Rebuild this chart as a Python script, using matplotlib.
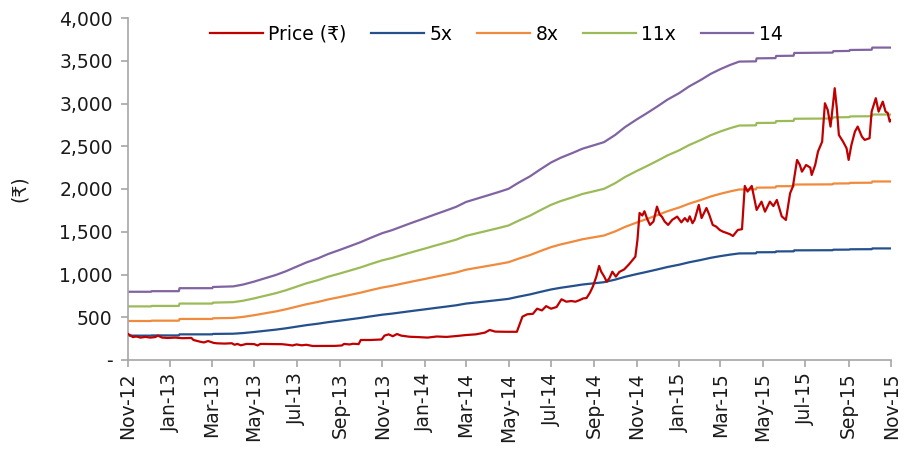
import matplotlib
matplotlib.use('Agg')
import matplotlib.pyplot as plt
import matplotlib.dates as mdates
from matplotlib.ticker import FuncFormatter
import pandas as pd

plt.rcParams['font.family'] = ['DejaVu Sans', 'Noto Sans']

# share price (Rs)
price_dates = [
    '2012-11-01', '2012-11-04', '2012-11-08', '2012-11-13', '2012-11-19', '2012-11-26',
    '2012-12-03', '2012-12-10', '2012-12-14', '2012-12-20', '2012-12-28', '2013-01-08',
    '2013-01-18', '2013-01-31', '2013-02-03', '2013-02-12', '2013-02-18', '2013-02-24',
    '2013-03-04', '2013-03-09', '2013-03-20', '2013-03-30', '2013-04-03', '2013-04-07',
    '2013-04-12', '2013-04-20', '2013-05-01', '2013-05-06', '2013-05-10', '2013-05-25',
    '2013-06-10', '2013-06-18', '2013-06-25', '2013-07-01', '2013-07-08', '2013-07-15',
    '2013-07-24', '2013-08-10', '2013-08-25', '2013-09-04', '2013-09-07', '2013-09-15',
    '2013-09-20', '2013-09-28', '2013-10-01', '2013-10-15', '2013-10-31', '2013-11-04',
    '2013-11-10', '2013-11-16', '2013-11-22', '2013-11-28', '2013-12-10', '2013-12-22',
    '2014-01-05', '2014-01-18', '2014-02-01', '2014-02-15', '2014-03-01', '2014-03-15',
    '2014-03-28', '2014-04-04', '2014-04-12', '2014-04-28', '2014-05-13', '2014-05-17',
    '2014-05-21', '2014-05-28', '2014-06-05', '2014-06-11', '2014-06-18', '2014-06-24',
    '2014-07-01', '2014-07-09', '2014-07-16', '2014-07-23', '2014-07-30', '2014-08-05',
    '2014-08-11', '2014-08-16', '2014-08-21', '2014-08-26', '2014-08-30', '2014-09-04',
    '2014-09-08', '2014-09-11', '2014-09-15', '2014-09-19', '2014-09-23', '2014-09-27',
    '2014-10-02', '2014-10-07', '2014-10-14', '2014-10-21', '2014-10-30', '2014-11-02',
    '2014-11-05', '2014-11-09', '2014-11-12', '2014-11-16', '2014-11-20', '2014-11-25',
    '2014-11-30', '2014-12-04', '2014-12-07', '2014-12-11', '2014-12-16', '2014-12-22',
    '2014-12-29', '2015-01-04', '2015-01-09', '2015-01-13', '2015-01-16', '2015-01-20',
    '2015-01-23', '2015-01-29', '2015-02-02', '2015-02-09', '2015-02-13', '2015-02-18',
    '2015-02-23', '2015-02-28', '2015-03-05', '2015-03-10', '2015-03-15', '2015-03-19',
    '2015-03-26', '2015-04-01', '2015-04-05', '2015-04-09', '2015-04-15', '2015-04-22',
    '2015-04-29', '2015-05-04', '2015-05-11', '2015-05-16', '2015-05-21', '2015-05-28',
    '2015-06-03', '2015-06-09', '2015-06-13', '2015-06-19', '2015-06-23', '2015-06-26',
    '2015-07-02', '2015-07-08', '2015-07-10', '2015-07-15', '2015-07-19', '2015-07-25',
    '2015-07-26', '2015-07-29', '2015-08-02', '2015-08-06', '2015-08-09', '2015-08-12',
    '2015-08-15', '2015-08-18', '2015-08-24', '2015-08-29', '2015-09-01', '2015-09-05',
    '2015-09-10', '2015-09-14', '2015-09-20', '2015-09-24', '2015-10-01', '2015-10-04',
    '2015-10-10', '2015-10-14', '2015-10-20', '2015-10-24', '2015-10-27', '2015-10-30',
    '2015-11-01',
]
price = [
    305, 290, 268, 275, 262, 270,
    262, 268, 285, 262, 258, 262,
    255, 258, 234, 215, 205, 222,
    200, 195, 192, 196, 178, 188,
    172, 188, 186, 170, 188, 186,
    185, 178, 170, 182, 172, 178,
    164, 164, 165, 170, 188, 182,
    190, 186, 234, 234, 240, 285,
    300, 278, 304, 285, 272, 268,
    262, 275, 270, 280, 292, 300,
    320, 351, 332, 330, 330, 420,
    507, 535, 540, 600, 580, 630,
    600, 620, 710, 682, 690, 682,
    700, 720, 725, 790, 858, 975,
    1100, 1033, 980, 916, 960, 1033,
    975, 1030, 1060, 1120, 1209, 1404,
    1720, 1690, 1740, 1650, 1580, 1620,
    1794, 1700, 1677, 1620, 1580, 1640,
    1677, 1610, 1660, 1620, 1680, 1600,
    1640, 1814, 1660, 1778, 1700, 1580,
    1560, 1521, 1500, 1486, 1470, 1450,
    1521, 1530, 2036, 1970, 2036, 1755,
    1852, 1735, 1852, 1800, 1872, 1680,
    1638, 1950, 2028, 2340, 2281, 2203,
    2281, 2250, 2164, 2281, 2437, 2554,
    2671, 3003, 2925, 2730, 2948, 3179,
    2948, 2632, 2554, 2477, 2340, 2516,
    2671, 2730, 2613, 2574, 2594, 2905,
    3062, 2905, 3022, 2905, 2890, 2788,
    2808,
]

# trailing EPS behind the PE bands (Rs)
eps_dates = [
    '2012-11-01', '2012-12-04', '2012-12-05', '2013-01-13', '2013-01-14', '2013-03-02',
    '2013-03-03', '2013-04-01', '2013-04-15',
    '2013-05-01', '2013-05-15', '2013-06-01', '2013-06-15', '2013-07-01', '2013-07-15',
    '2013-08-01', '2013-08-15', '2013-09-01', '2013-09-15', '2013-10-01', '2013-10-15',
    '2013-11-01', '2013-11-15', '2013-12-01', '2013-12-15', '2014-01-01', '2014-01-15',
    '2014-02-01', '2014-02-15', '2014-03-01', '2014-03-15', '2014-04-01', '2014-04-15',
    '2014-05-01', '2014-05-15', '2014-06-01', '2014-06-15', '2014-07-01', '2014-07-15',
    '2014-08-01', '2014-08-15', '2014-09-01', '2014-09-15', '2014-10-01', '2014-10-15',
    '2014-11-01', '2014-11-15', '2014-12-01', '2014-12-15', '2015-01-01', '2015-01-15',
    '2015-02-01', '2015-02-15', '2015-03-01', '2015-03-15', '2015-03-28', '2015-04-21',
    '2015-04-22', '2015-05-19', '2015-05-20', '2015-06-14', '2015-06-15', '2015-08-09',
    '2015-08-10', '2015-09-02', '2015-09-03', '2015-10-04', '2015-10-05', '2015-11-01',
]
eps = [
    57.0, 57.0, 57.5, 57.5, 60.0, 60.0,
    61.0, 61.5, 63.0,
    65.5, 68.0, 71.0, 74.0, 78.0, 81.5,
    85.0, 88.5, 92.0, 95.0, 98.5, 102.0,
    106.0, 108.5, 112.0, 115.0, 118.5, 121.5,
    125.0, 128.0, 132.0, 134.5, 137.5, 140.0,
    143.0, 148.0, 153.5, 159.0, 165.0, 169.0,
    173.0, 176.5, 179.5, 182.0, 188.0, 194.5,
    201.0, 206.0, 212.0, 217.5, 223.0, 228.5,
    234.0, 239.0, 243.0, 246.5, 249.3, 249.5,
    252.0, 252.2, 254.0, 254.2, 256.5, 256.8,
    258.0, 258.2, 259.0, 259.2, 261.0, 261.0,
]

multiples = [5, 8, 11, 14]
band_labels = ['5x', '8x', '11x', '14']
band_colors = ['#24508C', '#F08A3C', '#9BBB59', '#8064A2']

pdates = pd.to_datetime(price_dates)
edates = pd.to_datetime(eps_dates)

fig = plt.figure(figsize=(9.14, 4.5), dpi=100)
ax = fig.add_axes([0.140, 0.20, 0.835, 0.76])

ax.plot(pdates, price, color='#C00000', lw=1.6, label='Price (\u20b9)', zorder=5)
for m, lab, c in zip(multiples, band_labels, band_colors):
    ax.plot(edates, [e * m for e in eps], color=c, lw=1.6, label=lab)

ax.set_xlim(pd.Timestamp('2012-11-01'), pd.Timestamp('2015-11-01'))
ax.set_ylim(0, 4000)
ax.set_yticks(range(0, 4001, 500))
ax.yaxis.set_major_formatter(FuncFormatter(lambda v, p: '-' if v == 0 else '{:,.0f}'.format(v)))
ax.xaxis.set_major_locator(mdates.MonthLocator(bymonth=[1, 3, 5, 7, 9, 11]))
ax.xaxis.set_major_formatter(mdates.DateFormatter('%b-%y'))
plt.setp(ax.get_xticklabels(), rotation=90)

for s in ['top', 'right']:
    ax.spines[s].set_visible(False)
for s in ['left', 'bottom']:
    ax.spines[s].set_color('#A6A6A6')
    ax.spines[s].set_linewidth(1.2)
ax.tick_params(axis='both', colors='#A6A6A6', length=5, width=1.2, labelsize=13.5,
               labelcolor='#1a1a1a', pad=4)
ax.tick_params(axis='y', pad=6)

ax.set_ylabel('(\u20b9)', fontsize=13.5, color='#1a1a1a', labelpad=22)

ax.legend(loc='center', bbox_to_anchor=(0.483, 0.953), ncol=5, frameon=False,
          fontsize=13.5, handlelength=2.8, handletextpad=0.3, columnspacing=1.32)

fig.savefig('out.png', dpi=100)
